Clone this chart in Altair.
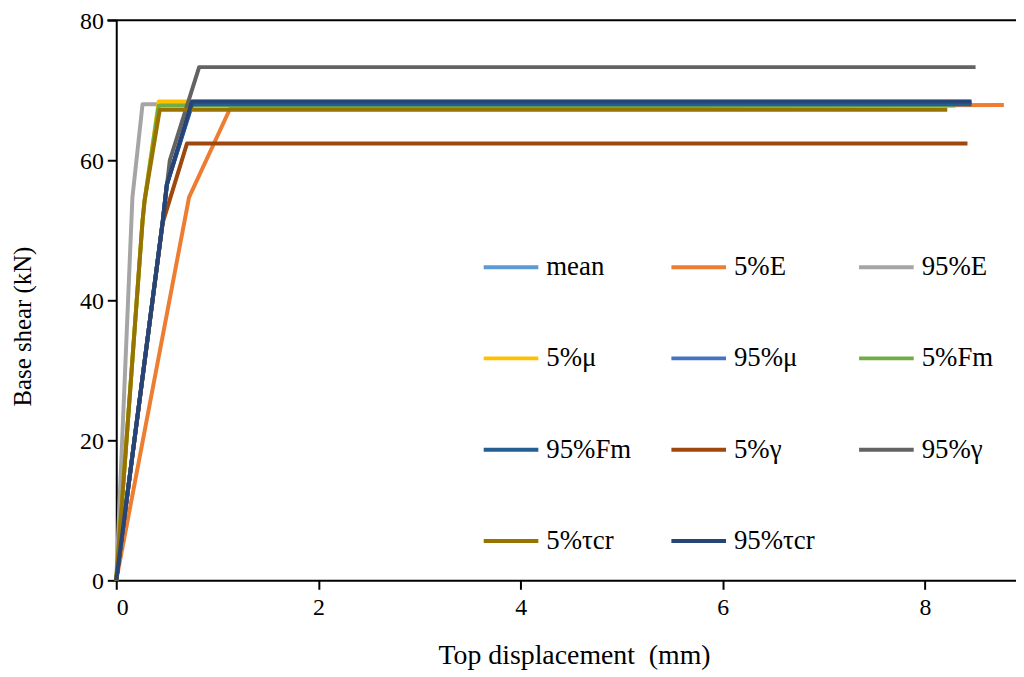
import altair as alt
import pandas as pd

series = ["mean", "5%E", "95%E", "5%μ", "95%μ", "5%Fm", "95%Fm", "5%γ", "95%γ", "5%τcr", "95%τcr"]
colors = ["#5B9BD5", "#ED7D31", "#A5A5A5", "#FFC000", "#4472C4", "#70AD47",
          "#255E91", "#9E480E", "#636363", "#997300", "#264478"]

mean_x = [0, 0.46, 0.50, 0.75, 8.46]
mean_y = [0, 51.3, 56.5, 67.9, 67.9]
e5_x = [0, 0.72, 1.13, 8.78]
e5_y = [0, 54.7, 67.5, 67.9]
e95_x = [0, 0.16, 0.26, 8.40]
e95_y = [0, 54.7, 68.0, 68.0]
mu5_x = [0, 0.26, 0.28, 0.42, 8.45]
mu5_y = [0, 51.3, 54.2, 68.4, 68.4]
mu95_x = [0, 0.46, 0.50, 0.75, 8.46]
mu95_y = [0, 51.3, 56.5, 68.2, 68.2]
fm5_x = [0, 0.26, 0.28, 0.42, 8.30]
fm5_y = [0, 51.3, 54.2, 67.8, 67.8]
fm95_x = [0, 0.46, 0.50, 0.75, 8.46]
fm95_y = [0, 51.3, 56.5, 68.0, 68.0]
g5_x = [0, 0.46, 0.70, 8.42]
g5_y = [0, 51.1, 62.4, 62.4]
g95_x = [0, 0.46, 0.53, 0.82, 8.50]
g95_y = [0, 51.3, 60.0, 73.3, 73.3]
t5_x = [0, 0.26, 0.28, 0.43, 8.22]
t5_y = [0, 51.3, 54.2, 67.2, 67.2]
t95_x = [0, 0.46, 0.50, 0.75, 8.46]
t95_y = [0, 51.3, 56.5, 68.4, 68.4]

xs = [mean_x, e5_x, e95_x, mu5_x, mu95_x, fm5_x, fm95_x, g5_x, g95_x, t5_x, t95_x]
ys = [mean_y, e5_y, e95_y, mu5_y, mu95_y, fm5_y, fm95_y, g5_y, g95_y, t5_y, t95_y]

rows = []
for si, (name, sx, sy) in enumerate(zip(series, xs, ys)):
    for i, (a, b) in enumerate(zip(sx, sy)):
        rows.append({"series": name, "x": a, "y": b, "ord": i, "layer": si})
df = pd.DataFrame(rows)

FONT = "Liberation Serif"

lines = alt.Chart(df).mark_line(strokeWidth=4, strokeJoin="round").encode(
    x=alt.X("x:Q", scale=alt.Scale(domain=[0, 8.9], nice=False),
            axis=alt.Axis(title="Top displacement\u00a0\u00a0(mm)", values=[0, 2, 4, 6, 8],
                          grid=False, tickSize=9, labelPadding=6, titleX=461, titleY=76,
                          titleBaseline="middle", titleAlign="center",
                          labelFont=FONT, labelFontSize=24,
                          labelColor="black", titleFont=FONT, titleFontSize=28)),
    y=alt.Y("y:Q", scale=alt.Scale(domain=[0, 80], nice=False),
            axis=alt.Axis(title="Base shear (kN)", values=[0, 20, 40, 60, 80],
                          grid=False, tickSize=9, labelPadding=4, labelOffset=1,
                          titleX=-94, titleY=308, titleBaseline="middle",
                          labelFont=FONT, labelFontSize=24, labelColor="black",
                          titleFont=FONT, titleFontSize=25)),
    color=alt.Color("series:N", sort=series,
                    scale=alt.Scale(domain=series, range=colors),
                    legend=alt.Legend(title=None, orient="none", legendX=368, legendY=219,
                                      direction="horizontal",
                                      columns=3, symbolType="stroke", symbolSize=3025,
                                      symbolStrokeWidth=4, labelOffset=6,
                                      columnPadding=32, rowPadding=49, gridAlign="all",
                                      padding=0, labelFontSize=27, labelFont=FONT,
                                      labelColor="black", labelLimit=0)),
    detail="layer:N",
    order="ord:Q",
)

top = alt.Chart(pd.DataFrame({"v": [80]})).mark_rule(color="black", strokeWidth=2).encode(
    y="v:Q", x=alt.value(-9), x2=alt.value(906)
)

chart = alt.layer(lines, top).properties(
    width=906, height=564,
    autosize=alt.AutoSizeParams(type="none"),
    padding={"left": 109, "top": 10, "right": 0, "bottom": 90},
).configure(font=FONT).configure_view(stroke=None).configure_axis(
    domainColor="black", domainWidth=2, tickColor="black", tickWidth=2,
    labelFont=FONT, labelFontSize=24, labelColor="black",
    titleFont=FONT, titleColor="black", titleFontWeight="normal",
)

chart.save("out.html", embed_options={"renderer": "svg", "actions": False})
